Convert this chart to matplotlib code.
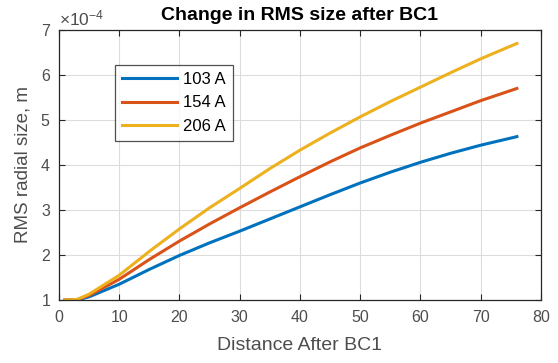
import numpy as np
import matplotlib
matplotlib.use("Agg")
from matplotlib import pyplot as plt
from matplotlib.ticker import ScalarFormatter

plt.rcParams['font.family'] = ['Liberation Sans', 'DejaVu Sans']
plt.rcParams['mathtext.default'] = 'regular'

# distance after BC1 and RMS radial size (units of 1e-4 m) for each current
distance = [1, 3, 5, 10, 15, 20, 25, 30, 35, 40, 45, 50, 55, 60, 65, 70, 76]
rms_103 = [1.0, 1.0, 1.07, 1.35, 1.68, 1.99, 2.27, 2.53, 2.80, 3.07, 3.34, 3.60, 3.84, 4.06, 4.26, 4.44, 4.63]
rms_154 = [1.0, 1.01, 1.10, 1.46, 1.90, 2.31, 2.69, 3.05, 3.40, 3.74, 4.07, 4.38, 4.66, 4.93, 5.18, 5.43, 5.70]
rms_206 = [1.0, 1.01, 1.13, 1.55, 2.08, 2.58, 3.05, 3.48, 3.92, 4.33, 4.71, 5.07, 5.41, 5.73, 6.05, 6.36, 6.70]
labels = ['103 A', '154 A', '206 A']
colors = ['#0072BD', '#D95319', '#EDB120']

fig = plt.figure(figsize=(5.58, 3.63), dpi=100)
ax = fig.add_axes([0.1057, 0.1736, 0.8638, 0.7438])

for vals, lbl, c in zip([rms_103, rms_154, rms_206], labels, colors):
    ax.plot(distance, np.array(vals) * 1e-4, color=c, lw=2.2, label=lbl)

ax.set_xlim(0, 80)
ax.set_ylim(1e-4, 7e-4)
ax.set_xticks(range(0, 81, 10))
ax.set_yticks(np.arange(1, 8) * 1e-4)

fmt = ScalarFormatter(useMathText=True)
fmt.set_powerlimits((0, 0))
ax.yaxis.set_major_formatter(fmt)
ax.yaxis.get_offset_text().set_fontsize(12.5)
ax.yaxis.get_offset_text().set_color('#4d4d4d')

ax.grid(True, color='#dcdcdc', lw=0.8)
ax.set_axisbelow(True)
ax.tick_params(direction='in', top=True, right=True, labelsize=11.5,
               colors='#262626', labelcolor='#4d4d4d', length=4, width=0.8)
ax.tick_params(axis='x', pad=7)
ax.tick_params(axis='y', pad=6)
for sp in ax.spines.values():
    sp.set_color('#262626')
    sp.set_linewidth(0.9)

ax.set_title('Change in RMS size after BC1', fontsize=14, fontweight='bold', pad=7)
ax.set_xlabel('Distance After BC1', fontsize=14, color='#4d4d4d', labelpad=9)
ax.set_ylabel('RMS radial size, m', fontsize=13.5, color='#4d4d4d', labelpad=6)

leg = ax.legend(loc='upper left', bbox_to_anchor=(0.116, 0.87), borderaxespad=0,
                fontsize=12, frameon=True, fancybox=False, edgecolor='#262626',
                handlelength=3.3, handletextpad=0.4, borderpad=0.4, labelspacing=0.52)
leg.get_frame().set_linewidth(0.9)

fig.savefig('out.png', dpi=100)
